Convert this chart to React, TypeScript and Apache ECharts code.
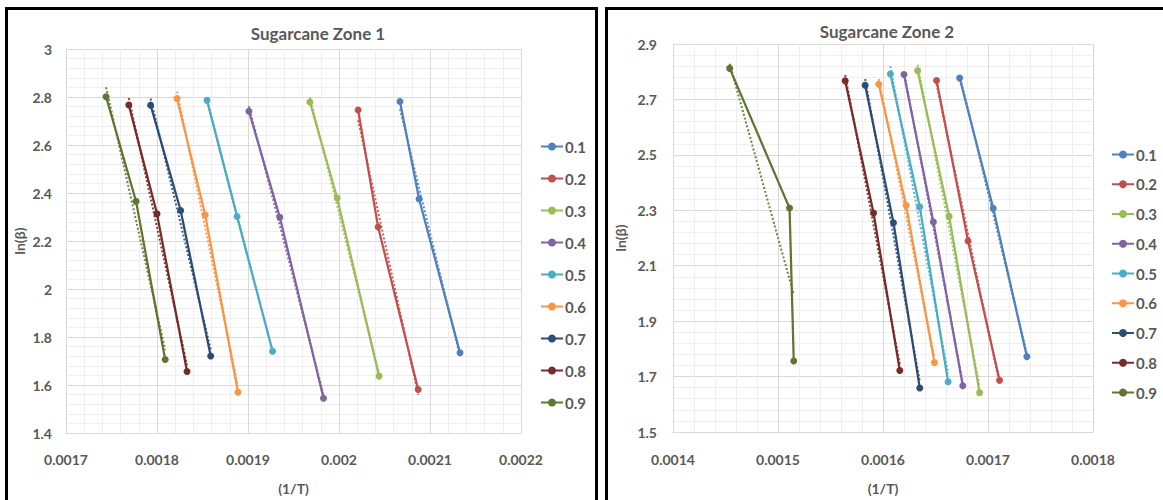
import React, { useEffect, useRef } from "react";
import * as echarts from "echarts";

const levels = ["0.1", "0.2", "0.3", "0.4", "0.5", "0.6", "0.7", "0.8", "0.9"];
const colors = ["#4F81BD", "#C0504D", "#9BBB59", "#8064A2", "#4BACC6", "#F79646", "#2C4D75", "#772C2A", "#5F7530"];

// Zone 1: (1/T) and ln(beta) per conversion level
const zone1InvT = [
  [0.002067, 0.002088, 0.002133],
  [0.002021, 0.002043, 0.002087],
  [0.001968, 0.001998, 0.002044],
  [0.001901, 0.001935, 0.001983],
  [0.001855, 0.001888, 0.001927],
  [0.001822, 0.001853, 0.001889],
  [0.001793, 0.001826, 0.001859],
  [0.001769, 0.0018, 0.001833],
  [0.001744, 0.001777, 0.001809],
];
const zone1LnBeta = [
  [2.781, 2.375, 1.734],
  [2.746, 2.258, 1.581],
  [2.779, 2.379, 1.637],
  [2.741, 2.299, 1.545],
  [2.786, 2.302, 1.741],
  [2.794, 2.308, 1.57],
  [2.766, 2.327, 1.721],
  [2.767, 2.313, 1.656],
  [2.801, 2.365, 1.706],
];

// Zone 2
const zone2InvT = [
  [0.001673, 0.001705, 0.001737],
  [0.001651, 0.001681, 0.001711],
  [0.001633, 0.001663, 0.001692],
  [0.00162, 0.001648, 0.001676],
  [0.001607, 0.001635, 0.001662],
  [0.001596, 0.001622, 0.001649],
  [0.001583, 0.00161, 0.001635],
  [0.001564, 0.001591, 0.001616],
  [0.001454, 0.001511, 0.001515],
];
const zone2LnBeta = [
  [2.777, 2.307, 1.772],
  [2.768, 2.189, 1.687],
  [2.804, 2.278, 1.642],
  [2.79, 2.258, 1.667],
  [2.792, 2.313, 1.681],
  [2.755, 2.318, 1.751],
  [2.751, 2.255, 1.659],
  [2.767, 2.29, 1.722],
  [2.812, 2.308, 1.756],
];

const titles = ["Sugarcane Zone 1", "Sugarcane Zone 2"];
const xName = "(1/T)";
const yName = "ln(β)";

// linear least-squares trendline (as in the spreadsheet's linear trendline)
function trend(xs: number[], ys: number[]) {
  const n = xs.length;
  const mx = xs.reduce((a, b) => a + b, 0) / n;
  const my = ys.reduce((a, b) => a + b, 0) / n;
  let sxy = 0, sxx = 0;
  for (let i = 0; i < n; i++) {
    sxy += (xs[i] - mx) * (ys[i] - my);
    sxx += (xs[i] - mx) * (xs[i] - mx);
  }
  const b = sxy / sxx;
  const a = my - b * mx;
  const x0 = Math.min(...xs);
  const x1 = Math.max(...xs);
  return [[x0, a + b * x0], [x1, a + b * x1]];
}

const FONT = "Lato, 'Open Sans', sans-serif";
const GRAY = "#595959";

export default function App() {
  const ref = useRef<HTMLDivElement>(null);
  useEffect(() => {
    const chart = echarts.init(ref.current!, null, { renderer: "svg" });

    const axisCommon = {
      type: "value" as const,
      axisTick: { show: false },
      axisLine: { show: true, lineStyle: { color: "#d9d9d9", width: 1 } },
      splitLine: { show: true, lineStyle: { color: "#d9d9d9", width: 1 } },
      minorTick: { show: false, splitNumber: 5 },
      minorSplitLine: { show: true, lineStyle: { color: "#efefef", width: 1 } },
      nameLocation: "middle" as const,
      nameTextStyle: { color: GRAY, fontSize: 14, fontFamily: FONT, fontWeight: "bold" as const },
    };

    const labelStyle = (margin: number) => ({
      color: GRAY,
      fontSize: 14,
      fontFamily: FONT,
      fontWeight: "bold" as const,
      margin,
      showMinLabel: true,
      showMaxLabel: true,
    });

    const xAxis = [
      { ...axisCommon, gridIndex: 0, min: 0.0017, max: 0.0022, interval: 0.0001, name: xName, nameGap: 48, axisLabel: labelStyle(19) },
      { ...axisCommon, gridIndex: 1, min: 0.0014, max: 0.0018, interval: 0.0001, name: xName, nameGap: 49, axisLabel: labelStyle(20) },
    ];
    const yAxis = [
      { ...axisCommon, gridIndex: 0, min: 1.4, max: 3, interval: 0.2, name: yName, nameGap: 40, axisLabel: labelStyle(14) },
      { ...axisCommon, gridIndex: 1, min: 1.5, max: 2.9, interval: 0.2, name: yName, nameGap: 46, axisLabel: labelStyle(16) },
    ];

    const series: any[] = [];
    const zones = [
      { xs: zone1InvT, ys: zone1LnBeta },
      { xs: zone2InvT, ys: zone2LnBeta },
    ];
    zones.forEach((z, zi) => {
      levels.forEach((lv, i) => {
        series.push({
          name: lv,
          type: "line",
          xAxisIndex: zi,
          yAxisIndex: zi,
          data: z.xs[i].map((x, k) => [x, z.ys[i][k]]),
          symbol: "circle",
          symbolSize: 7,
          color: colors[i],
          lineStyle: { width: 2.25, color: colors[i] },
          itemStyle: { color: colors[i] },
          z: 2,
        });
      });
      levels.forEach((lv, i) => {
        series.push({
          name: "trend " + lv,
          type: "line",
          xAxisIndex: zi,
          yAxisIndex: zi,
          data: trend(z.xs[i], z.ys[i]),
          symbol: "none",
          silent: true,
          lineStyle: { width: 2, type: [2, 2], color: colors[i], opacity: 0.9 },
          z: 3,
        });
      });
    });

    const legendCommon = {
      orient: "vertical" as const,
      data: levels,
      itemWidth: 22,
      itemHeight: 10,
      textStyle: { color: GRAY, fontSize: 15, fontFamily: FONT, fontWeight: "bold" as const, padding: [0, 0, 0, -3] },
    };

    chart.setOption({
      animation: false,
      backgroundColor: "#ffffff",
      textStyle: { fontFamily: FONT },
      grid: [
        { left: 66, top: 49, width: 455, height: 389 },
        { left: 673, top: 44, width: 420, height: 391 },
      ],
      xAxis,
      yAxis,
      legend: [
        { ...legendCommon, left: 535, top: 134, itemGap: 17 },
        { ...legendCommon, left: 1106, top: 142, itemGap: 14.75 },
      ],
      graphic: [
        { type: "rect", shape: { x: 6.5, y: 8.5, width: 590, height: 500 }, style: { fill: "none", stroke: "#000", lineWidth: 3 }, z: 100 },
        { type: "rect", shape: { x: 606.5, y: 8.5, width: 600, height: 500 }, style: { fill: "none", stroke: "#000", lineWidth: 3 }, z: 100 },
        { type: "text", x: 318, y: 33, style: { text: titles[0], fill: GRAY, font: `bold 17px ${FONT}`, align: "center", verticalAlign: "middle" }, z: 100 },
        { type: "text", x: 887, y: 31, style: { text: titles[1], fill: GRAY, font: `bold 17px ${FONT}`, align: "center", verticalAlign: "middle" }, z: 100 },
      ],
      series,
    });

    return () => chart.dispose();
  }, []);

  return (
    <div
      ref={ref}
      style={{ position: "fixed", left: 0, top: 0, width: 1163, height: 500, background: "#fff" }}
    />
  );
}
